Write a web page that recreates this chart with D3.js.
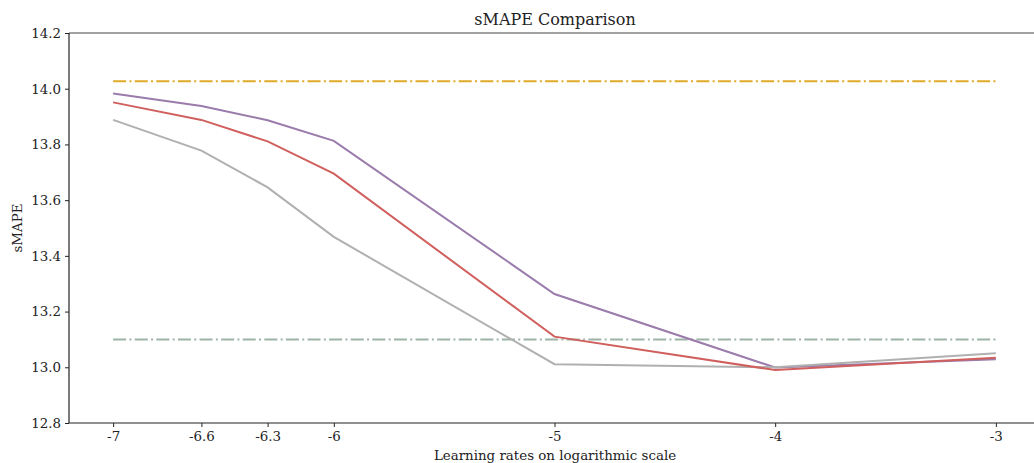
<!DOCTYPE html>
<html><head><meta charset="utf-8">
<script src="https://cdn.jsdelivr.net/npm/d3@7"></script>
<style>body{margin:0;background:#fff;} svg{display:block;} text{font-family:"DejaVu Serif",serif;fill:#222;}</style>
</head><body><svg id="c" width="1034" height="463"></svg>
<script>
const lrs = [-7, -6.6, -6.3, -6, -5, -4, -3];
const tickLabels = ["-7", "-6.6", "-6.3", "-6", "-5", "-4", "-3"];
const purpleSeries = [13.983, 13.938, 13.887, 13.813, 13.263, 12.999, 13.029];
const redSeries    = [13.951, 13.888, 13.811, 13.695, 13.110, 12.990, 13.034];
const graySeries   = [13.888, 13.778, 13.646, 13.468, 13.011, 13.000, 13.050];
const orangeBaseline = 14.027;
const greenBaseline = 13.100;
const yTicks = [12.8, 13.0, 13.2, 13.4, 13.6, 13.8, 14.0, 14.2];

const svg = d3.select("#c");
const L = 69, R = 1040, T = 33, B = 423;
const x = d3.scaleLinear().domain([-7.2, -2.8]).range([L, R]);
const y = d3.scaleLinear().domain([12.8, 14.2]).range([B, T]);

const line = d3.line().x(d => x(d[0])).y(d => y(d[1]));

function drawSeries(vals, color, dash) {
  svg.append("path")
    .datum(lrs.map((v, i) => [v, vals[i]]))
    .attr("d", line).attr("fill", "none")
    .attr("stroke", color).attr("stroke-width", 2)
    .attr("stroke-dasharray", dash || null);
}
drawSeries(lrs.map(() => orangeBaseline), "#e0aa2a", "13,3.3,2,3.3");
drawSeries(lrs.map(() => greenBaseline), "#9cb4a6", "13,3.3,2,3.3");
drawSeries(purpleSeries, "#9a7bab");
drawSeries(graySeries, "#b0b0b0");
drawSeries(redSeries, "#d0605e");

// axes
const xAxis = d3.axisBottom(x).tickValues(lrs).tickFormat((d, i) => tickLabels[i]).tickSizeOuter(0).tickSize(4).tickPadding(4);
const gx = svg.append("g").attr("transform", `translate(0,${B})`).call(xAxis);
const yAxis = d3.axisLeft(y).tickValues(yTicks).tickFormat(d3.format(".1f")).tickSizeOuter(0).tickSize(4).tickPadding(4);
const gy = svg.append("g").attr("transform", `translate(${L},0)`).call(yAxis);
[gx, gy].forEach(g => {
  g.select(".domain").remove();
  g.selectAll("line").attr("stroke", "#222").attr("stroke-width", 1);
  g.selectAll("text").style("font-family", "DejaVu Serif").style("font-size", "13.4px").attr("fill", "#222");
});
// spines
svg.append("line").attr("x1", L).attr("x2", R).attr("y1", B).attr("y2", B).attr("stroke", "#222").attr("stroke-width", 1.2);
svg.append("line").attr("x1", L).attr("x2", R).attr("y1", T).attr("y2", T).attr("stroke", "#444").attr("stroke-width", 1.2);
svg.append("line").attr("x1", L).attr("x2", L).attr("y1", T).attr("y2", B).attr("stroke", "#222").attr("stroke-width", 1.2);

svg.append("text").attr("x", 555).attr("y", 25).attr("text-anchor", "middle").style("font-size", "16px").text("sMAPE Comparison");
svg.append("text").attr("x", 555).attr("y", 459.5).attr("text-anchor", "middle").style("font-size", "13.4px").text("Learning rates on logarithmic scale");
svg.append("text").attr("transform", `translate(22,${(T + B) / 2}) rotate(-90)`).attr("text-anchor", "middle").style("font-size", "13.4px").text("sMAPE");
</script></body></html>
